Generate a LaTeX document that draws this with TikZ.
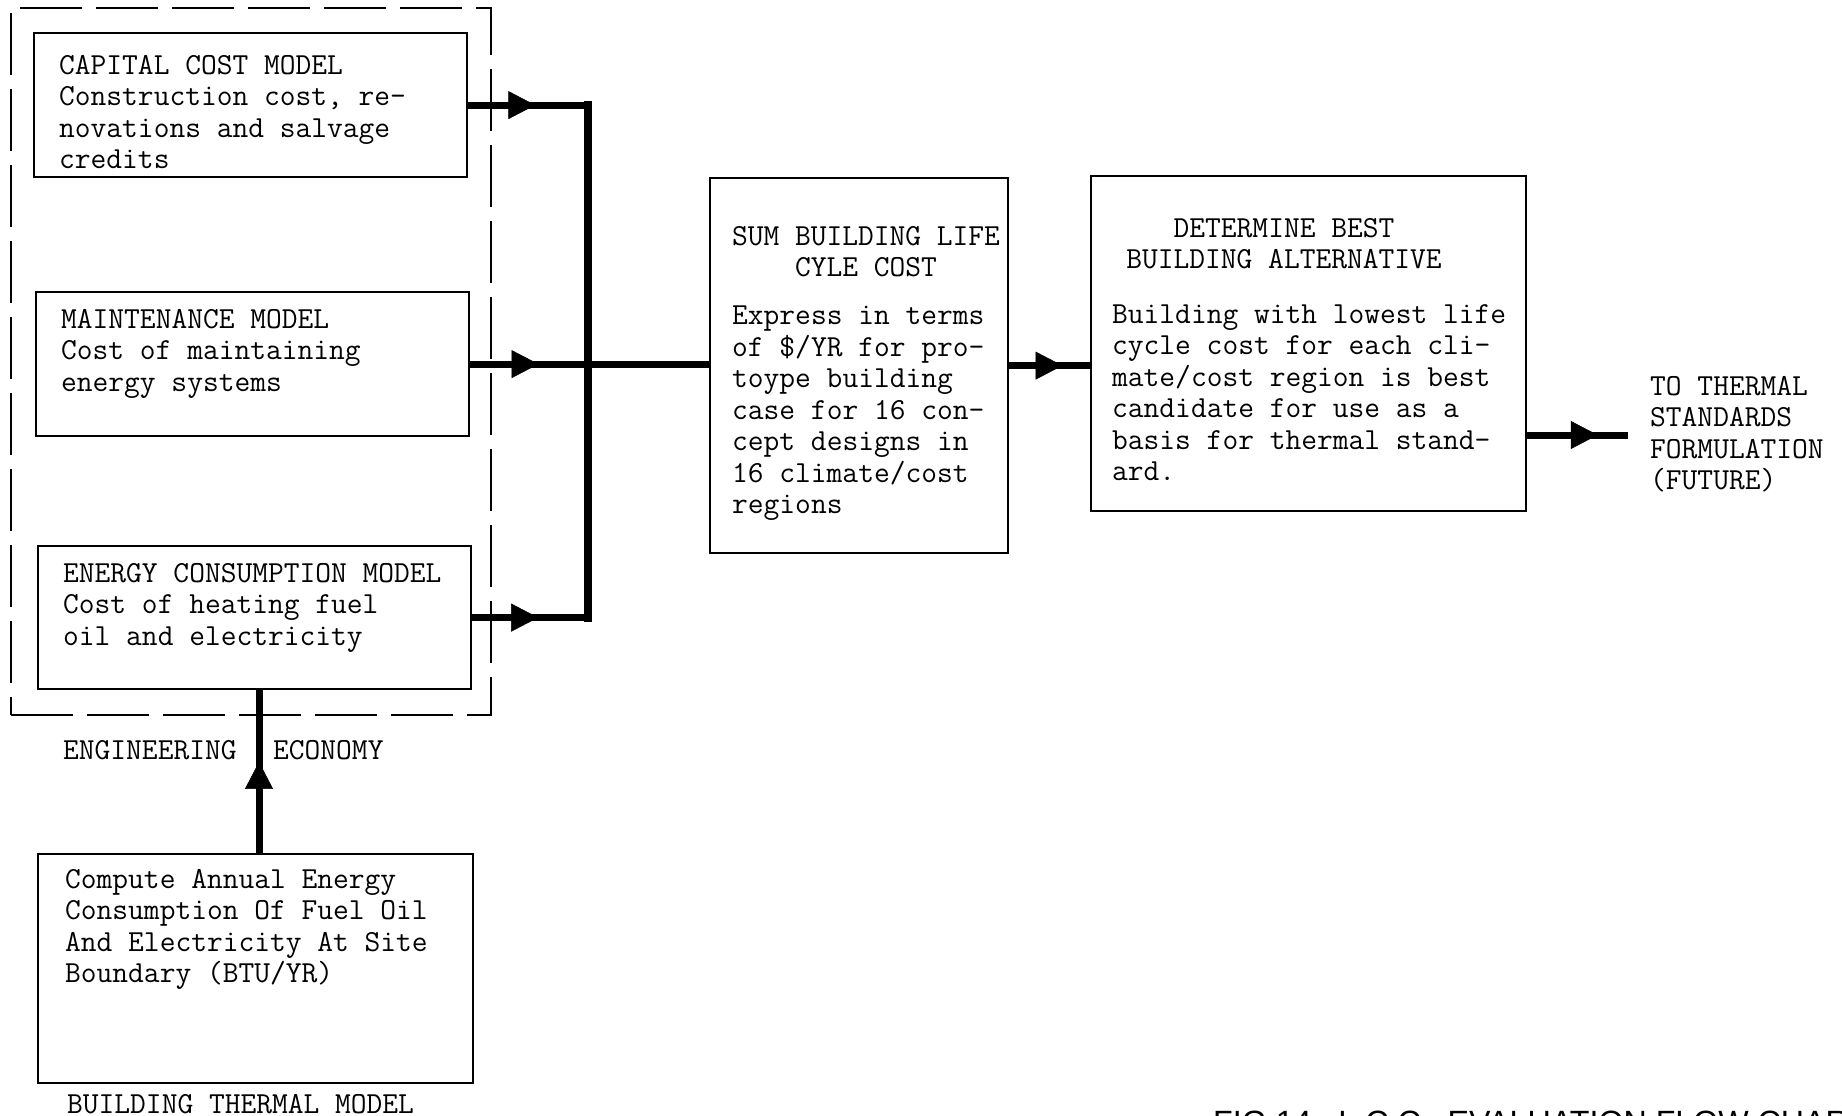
\documentclass[tikz,border=0pt]{standalone}
\usepackage{fontspec}
\newfontfamily\capfont{Liberation Sans}
\usetikzlibrary{arrows.meta,decorations.markings}

\tikzset{
  box/.style={draw, line width=2.2pt, rectangle, inner sep=0pt, anchor=north west},
  groupbox/.style={draw, line width=2.4pt, dash pattern=on 62pt off 14pt, rectangle, inner sep=0pt, anchor=north west},
  txt/.style={inner sep=0pt, align=left, font=\ttfamily\fontsize{30.6}{31.5}\selectfont},
  ctxt/.style={inner sep=0pt, align=center, font=\ttfamily\fontsize{30.6}{31}\selectfont},
  conn/.style={line width=7pt},
  busline/.style={line width=8pt, line cap=rect},
  tipat/.style={line width=0.5pt,
    decoration={markings, mark=at position #1 with {\arrow{Triangle[length=27pt,width=28pt]}}},
    postaction={decorate}},
}

\begin{document}
\begin{tikzpicture}[x=1pt, y=-1pt]
  \useasboundingbox[fill=white] (0,0) rectangle (1842,1116);

  % engineering-economy group
  \node[groupbox, minimum width=480pt, minimum height=707pt] (eng) at (10,7) {};

  % cost models
  \node[box, minimum width=433pt, minimum height=144pt] (cap) at (33,32) {};
  \node[txt, anchor=north west] (capT) at (59,55)
    {CAPITAL COST MODEL\\Construction cost, re-\\novations and salvage\\credits};

  \node[box, minimum width=433pt, minimum height=144pt] (mnt) at (35,291) {};
  \node[txt, anchor=north west] (mntT) at (61,309)
    {MAINTENANCE MODEL\\Cost of maintaining\\energy systems};

  \node[box, minimum width=433pt, minimum height=143pt] (en) at (37,545) {};
  \node[txt, anchor=north west] (enT) at (63,563)
    {ENERGY CONSUMPTION MODEL\\Cost of heating fuel\\oil and electricity};

  % building thermal model
  \node[box, minimum width=435pt, minimum height=229pt] (th) at (37,853) {};
  \node[txt, anchor=north west] (thT) at (65,869)
    {Compute Annual Energy\\Consumption Of Fuel Oil\\And Electricity At Site\\Boundary (BTU/YR)};
  \node[txt, anchor=north west] (thL) at (67,1094) {BUILDING THERMAL MODEL};

  \node[txt, anchor=north west] (engL) at (63,740) {ENGINEERING};
  \node[txt, anchor=north west] (ecoL) at (273,740) {ECONOMY};

  % life cycle cost sum
  \node[box, minimum width=298pt, minimum height=375pt] (sum) at (709,177) {};
  \node[ctxt, anchor=north] (sumH) at (866,226) {SUM BUILDING LIFE\\CYLE COST};
  \node[txt, anchor=north west] (sumT) at (732,306)
    {Express in terms\\of \$/YR for pro-\\toype building\\case for 16 con-\\cept designs in\\16 climate/cost\\regions};

  % best alternative
  \node[box, minimum width=435pt, minimum height=335pt] (det) at (1090,175) {};
  \node[ctxt, anchor=north] (detH) at (1284,218) {DETERMINE BEST\\BUILDING ALTERNATIVE};
  \node[txt, anchor=north west] (detT) at (1112,304)
    {Building with lowest life\\cycle cost for each cli-\\mate/cost region is best\\candidate for use as a\\basis for thermal stand-\\ard.};

  \node[txt, anchor=north west] (fut) at (1650,376)
    {TO THERMAL\\STANDARDS\\FORMULATION\\(FUTURE)};

  \node[inner sep=0pt, anchor=north west, font=\capfont\fontsize{32.2}{34}\selectfont] (fig)
    at (1213,1111) {FIG 14\ \ \ L.C.C.\ \ EVALUATION\ FLOW\ CHART};

  % connector helpers
  \coordinate (bus) at (588,362);
  \coordinate (upx) at (259,0);
  \coordinate (outEnd) at (1628,435);

  % collecting bus
  \draw[busline] (cap.east -| bus) -- (en.east -| bus);
  \draw[conn] (cap.east) -- (cap.east -| bus);
  \draw[conn] (en.east) -- (en.east -| bus);
  \draw[conn] (mnt.east) -- (mnt.east -| sum.west);
  \path[tipat=0.56] (cap.east) -- (cap.east -| bus);
  \path[tipat=0.58] (mnt.east) -- (mnt.east -| bus);
  \path[tipat=0.57] (en.east) -- (en.east -| bus);

  % flow to the right
  \draw[conn] (sum.east) -- (sum.east -| det.west);
  \path[tipat=0.66] (sum.east) -- (sum.east -| det.west);
  \draw[conn] (det.east |- outEnd) -- (outEnd);
  \path[tipat=0.70] (det.east |- outEnd) -- (outEnd);

  % thermal model feeds energy model
  \draw[conn] (th.north -| upx) -- (en.south -| upx);
  \path[tipat=0.56] (th.north -| upx) -- (en.south -| upx);
\end{tikzpicture}
\end{document}
